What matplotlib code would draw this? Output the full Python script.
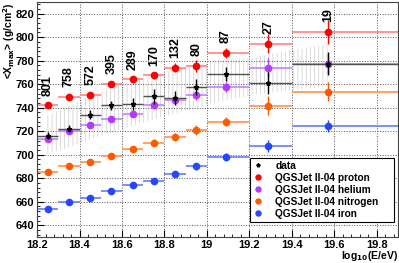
import numpy as np
import matplotlib.pyplot as plt
from matplotlib.ticker import MultipleLocator

plt.rcParams['font.family'] = ['Liberation Sans', 'DejaVu Sans']
plt.rcParams['font.weight'] = 'bold'
plt.rcParams['hatch.linewidth'] = 0.5

# bins in log10(E/eV)
bin_lo = np.array([18.2, 18.3, 18.4, 18.5, 18.6, 18.7, 18.8, 18.9, 19.0, 19.2, 19.4])
bin_hi = np.array([18.3, 18.4, 18.5, 18.6, 18.7, 18.8, 18.9, 19.0, 19.2, 19.4, 19.9])
x_mean = np.array([18.25, 18.35, 18.45, 18.55, 18.65, 18.75, 18.85, 18.95, 19.09, 19.29, 19.57])
n_events = ["801", "758", "572", "395", "289", "170", "132", "80", "87", "27", "19"]

# data
data = np.array([716, 722, 734, 742, 743, 749.5, 748, 757.5, 768.5, 761, 777.5])
data_err = np.array([3, 3, 4, 4, 5, 6, 6, 7, 6, 9, 10])

# systematic band
band_x = np.array([18.24, 18.35, 18.45, 18.55, 18.65, 18.75, 18.85, 18.95, 19.05, 19.2, 19.4, 19.57])
band_lo = np.array([700, 706, 713, 719, 725, 730, 735, 740, 745, 750, 755, 758])
band_hi = np.array([733, 741, 750, 757, 763, 768, 772, 776, 780, 782, 789, 794])

# QGSJet II-04 predictions
proton = np.array([742, 749, 751, 760.5, 764, 767.5, 774, 775.5, 786.5, 794.5, 804.5])
proton_err = np.array([2, 2, 2.5, 2.5, 3, 3, 4, 5, 4, 8, 10])
helium = np.array([713, 720.5, 725.5, 730.5, 735, 742, 746.5, 750.5, 757.5, 774, 777.5])
helium_err = np.array([2, 2, 2, 2.5, 3, 3, 3.5, 4, 4, 8, 9])
nitrogen = np.array([685.5, 690, 694, 698.5, 705, 710, 715, 721, 728, 741.5, 753.5])
nitrogen_err = np.array([2, 2, 2, 2.5, 2.5, 3, 3.5, 4, 4, 8, 8])
iron = np.array([653.5, 660, 663.5, 669, 674, 677.5, 683.5, 690, 698, 707.5, 724.5])
iron_err = np.array([1.5, 1.5, 2, 2, 2, 2, 2.5, 3, 3, 5, 5])

fig, ax = plt.subplots(figsize=(3.99, 2.63), dpi=100)
fig.subplots_adjust(left=0.093, right=0.997, bottom=0.099, top=0.993)

ax.fill_between(band_x, band_lo, band_hi, facecolor='none', edgecolor='#cccccc',
                hatch='||||', linewidth=0, zorder=1)

sims = [
    (proton, proton_err, '#ff0000', '#ff8c8c', "QGSJet II-04 proton"),
    (helium, helium_err, '#b43cff', '#c98cff', "QGSJet II-04 helium"),
    (nitrogen, nitrogen_err, '#ff5a00', '#ff9a5a', "QGSJet II-04 nitrogen"),
    (iron, iron_err, '#2846ff', '#6f86ff', "QGSJet II-04 iron"),
]
handles = []
for vals, err, c, cl, lab in sims:
    ax.hlines(vals, bin_lo, bin_hi, color=cl, lw=1.3, zorder=2)
    ax.errorbar(x_mean, vals, yerr=err, fmt='none', ecolor=c, elinewidth=1.0, zorder=3)
    h = ax.plot(x_mean, vals, 'o', color=c, ms=4.5, zorder=4, label=lab)[0]
    handles.append(h)

ax.hlines(data, bin_lo, bin_hi, color='#505050', lw=1.0, zorder=5)
ax.errorbar(x_mean, data, yerr=data_err, fmt='none', ecolor='black', elinewidth=1.0, zorder=5)
hd = ax.plot(x_mean, data, '*', color='black', ms=3.5, zorder=6, label="data")[0]

for xi, yi, t in zip(x_mean, proton, n_events):
    ax.annotate(t, (xi, yi), xytext=(0, 7), textcoords='offset points',
                rotation=90, ha='center', va='bottom', fontsize=9, fontweight='bold')

ax.set_xlim(18.2, 19.9)
ax.set_ylim(630, 830)
ax.xaxis.set_minor_locator(MultipleLocator(0.04))
ax.yaxis.set_major_locator(MultipleLocator(20))
ax.yaxis.set_minor_locator(MultipleLocator(4))
ax.set_xticks(np.arange(18.2, 19.81, 0.2))
ax.set_xticklabels(["18.2", "18.4", "18.6", "18.8", "19", "19.2", "19.4", "19.6", "19.8"])
ax.tick_params(direction='in', labelsize=8, length=5, pad=2)
ax.tick_params(which='minor', direction='in', length=2.5)
ax.grid(True, which='major', linestyle=':', color='#555555', lw=0.7)
for s in ax.spines.values():
    s.set_color('#444444')

ax.set_ylabel(r"<X$_{\mathbf{max}}$> (g/cm$^{\mathbf{2}}$)", fontsize=7.5, fontweight='bold')
ax.yaxis.set_label_coords(-0.078, 1.0)
ax.yaxis.label.set_va('center')
ax.yaxis.label.set_ha('right')
ax.set_xlabel(r"log$_{\mathbf{10}}$(E/eV)", fontsize=7.5, fontweight='bold')
ax.xaxis.set_label_coords(1.0, -0.05)
ax.xaxis.label.set_ha('right')
ax.xaxis.label.set_va('top')

leg = ax.legend([hd] + handles, ["data"] + [s[4] for s in sims], loc='lower left',
                bbox_to_anchor=(0.59, 0.064, 0.40, 0.24), mode='expand',
                fontsize=7.3, frameon=True, fancybox=False, borderaxespad=0,
                edgecolor='black', framealpha=1, handlelength=1.0, borderpad=0.3,
                labelspacing=0.2, handletextpad=1.2, markerscale=0.8)
leg.get_frame().set_linewidth(0.8)
leg.set_zorder(10)

plt.savefig("out.png", dpi=100)
